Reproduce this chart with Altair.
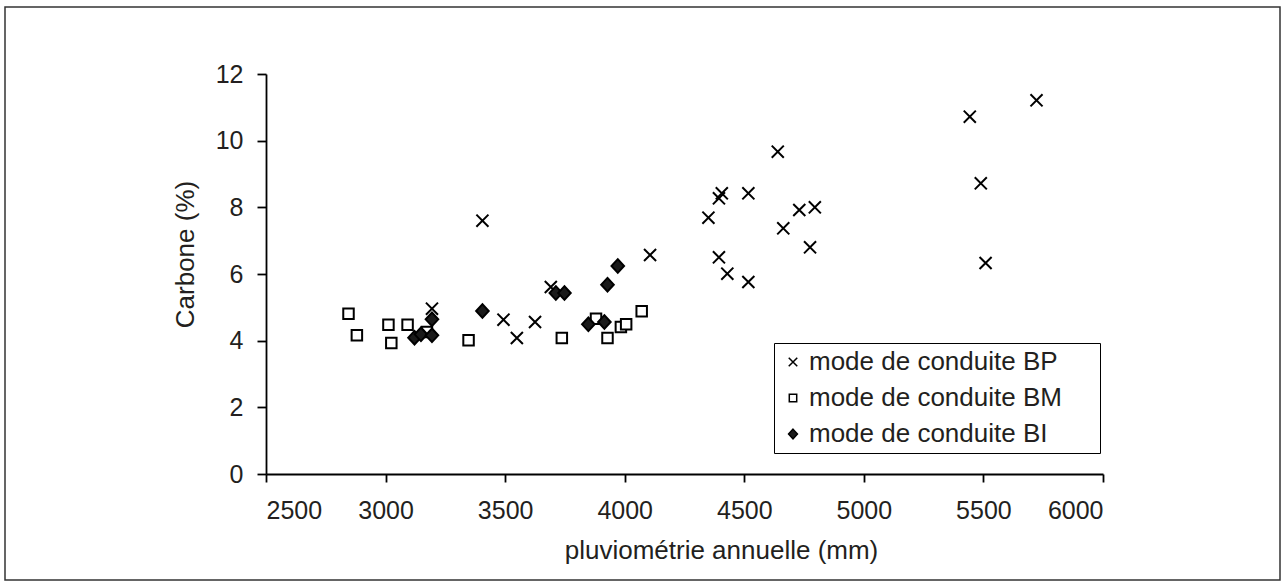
import altair as alt
import pandas as pd

# ---- data ----
series_names = ["mode de conduite BP", "mode de conduite BM", "mode de conduite BI"]

bp_x = [3194, 3405, 3493, 3549, 3625, 3691, 4106, 4350, 4394, 4406, 4517,
        4394, 4429, 4517, 4640, 4663, 4730, 4775, 4795, 5443, 5489, 5509, 5722]
bp_y = [4.96, 7.60, 4.63, 4.08, 4.56, 5.61, 6.57, 7.69, 8.27, 8.42, 8.42,
        6.50, 6.01, 5.76, 9.67, 7.37, 7.92, 6.80, 8.00, 10.72, 8.72, 6.33, 11.21]

bm_x = [2845, 2880, 3012, 3024, 3092, 3173, 3347, 3737, 3880, 3928, 3984, 4006, 4071]
bm_y = [4.81, 4.16, 4.48, 3.93, 4.48, 4.26, 4.01, 4.08, 4.66, 4.08, 4.41, 4.49, 4.88]

bi_x = [3121, 3148, 3194, 3194, 3405, 3712, 3748, 3848, 3915, 3928, 3971]
bi_y = [4.09, 4.19, 4.16, 4.64, 4.89, 5.43, 5.43, 4.49, 4.56, 5.68, 6.24]

x_ticks = [2500, 3000, 3500, 4000, 4500, 5000, 5500, 6000]
y_ticks = [0, 2, 4, 6, 8, 10, 12]

rows = []
for name, xs, ys in zip(series_names, [bp_x, bm_x, bi_x], [bp_y, bm_y, bi_y]):
    for a, b in zip(xs, ys):
        rows.append({"pluvio": a, "carbone": b, "mode": name})
df = pd.DataFrame(rows)

W, H = 837, 400
FONT = "Liberation Sans"
TXT = "#231f20"

x_path = "M-1.15,-1.15L1.15,1.15M-1.15,1.15L1.15,-1.15"
d_path = "M0,-1.3L1.2,0L0,1.3L-1.2,0Z"

legend_cfg = dict(orient="none", legendX=508, legendY=269)

points = alt.Chart(df).mark_point(opacity=1, size=110).encode(
    x=alt.X("pluvio:Q", title="pluviométrie annuelle (mm)",
            scale=alt.Scale(domain=[2500, 6000], nice=False, zero=False),
            axis=alt.Axis(values=x_ticks, format="d", grid=False, tickSize=8,
                          labelPadding=16, titleX=455, titleY=84,
                          titleBaseline="alphabetic", titleAlign="center",
                          titleAnchor="start")),
    y=alt.Y("carbone:Q", title="Carbone (%)",
            scale=alt.Scale(domain=[0, 12], nice=False),
            axis=alt.Axis(values=y_ticks, format="d", grid=False, tickSize=9,
                          labelPadding=14, titleX=-73, titleY=180, titleAngle=-90,
                          titleBaseline="alphabetic", titleAlign="center",
                          titleAnchor="start")),
    shape=alt.Shape("mode:N", title=None,
                    scale=alt.Scale(domain=series_names, range=[x_path, "square", d_path]),
                    legend=alt.Legend(strokeColor="black", fillColor="white",
                                      padding=6, rowPadding=10, labelFontSize=26,
                                      labelFont=FONT, labelColor=TXT, labelLimit=500,
                                      symbolSize=55, symbolStrokeWidth=1.5,
                                      symbolOffset=0, labelOffset=3,
                                      labelExpr="datum.label + '\u2003\u2009\u200b'",
                                      **legend_cfg)),
    fill=alt.Fill("mode:N", title=None,
                  scale=alt.Scale(domain=series_names, range=["black", "white", "#1a1a1a"]),
                  legend=alt.Legend(**legend_cfg)),
    stroke=alt.Stroke("mode:N", title=None,
                      scale=alt.Scale(domain=series_names, range=["black", "black", "black"]),
                      legend=alt.Legend(**legend_cfg)),
    strokeWidth=alt.value(2),
)

border = alt.Chart(alt.Data(values=[{}])).mark_rect(
    fill=None, stroke="#333333", strokeWidth=1.5
).encode(
    x=alt.value(-261), x2=alt.value(1014),
    y=alt.value(-67), y2=alt.value(506),
)

chart = alt.layer(border, points).properties(
    width=W, height=H,
    padding={"left": 266, "top": 74, "right": 182, "bottom": 111},
    autosize=alt.AutoSizeParams(type="none"),
    background="white",
).configure_view(stroke=None).configure_axis(
    domainColor="black", domainWidth=1.8, tickColor="black", tickWidth=1.8,
    labelFont=FONT, labelFontSize=25, labelColor=TXT,
    titleFont=FONT, titleFontSize=26, titleFontWeight="normal", titleColor=TXT,
)

chart.save("out.html", embed_options={"renderer": "svg", "actions": False})
